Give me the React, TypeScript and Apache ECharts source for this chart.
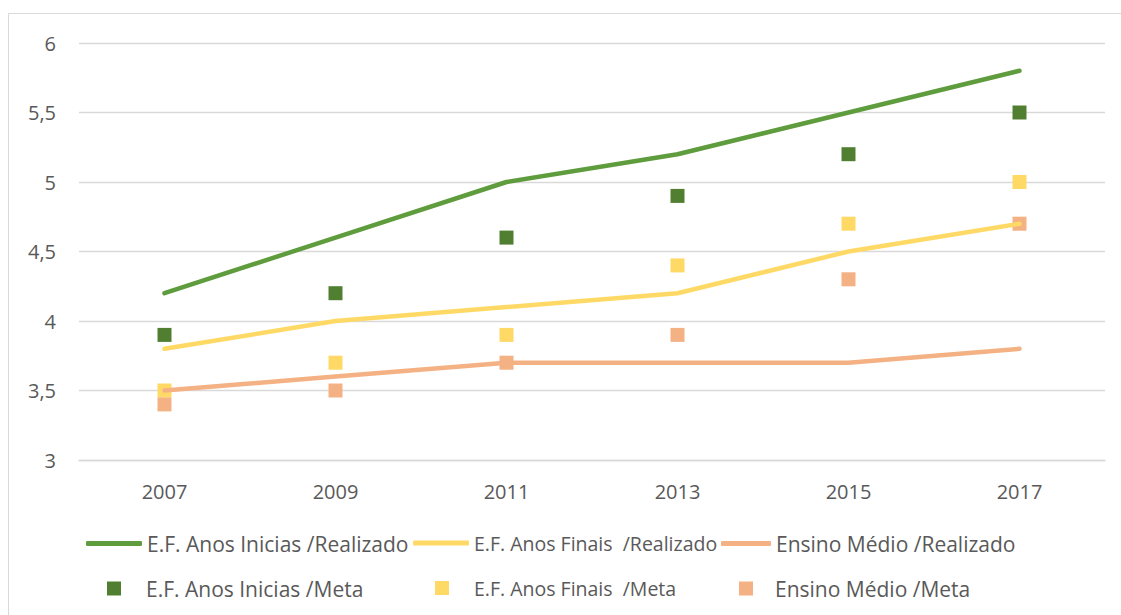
import React, { useEffect, useRef } from "react";
import * as echarts from "echarts";

const years = ["2007", "2009", "2011", "2013", "2015", "2017"];
const iniciaisRealizado = [4.2, 4.6, 5.0, 5.2, 5.5, 5.8];
const finaisRealizado = [3.8, 4.0, 4.1, 4.2, 4.5, 4.7];
const medioRealizado = [3.5, 3.6, 3.7, 3.7, 3.7, 3.8];
const iniciaisMeta = [3.9, 4.2, 4.6, 4.9, 5.2, 5.5];
const finaisMeta = [3.5, 3.7, 3.9, 4.4, 4.7, 5.0];
const medioMeta = [3.4, 3.5, 3.7, 3.9, 4.3, 4.7];

const names = [
  "E.F. Anos Inicias /Realizado",
  "E.F. Anos Finais  /Realizado",
  "Ensino Médio /Realizado",
  "E.F. Anos Inicias /Meta",
  "E.F. Anos Finais  /Meta",
  "Ensino Médio /Meta",
];

const FONT = "'Open Sans', sans-serif";
const TXT = "#595959";

export default function App() {
  const ref = useRef<HTMLDivElement>(null);
  useEffect(() => {
    if (!ref.current) return;
    const chart = echarts.init(ref.current, undefined, { renderer: "svg" });
    const green = "#5f9c3d";
    const greenM = "#507f31";
    const yellow = "#ffd966";
    const orange = "#f4b183";
    const lineLegend = (name: string, left: number, w: number, fs: number) => ({
      data: [name],
      left,
      top: 533,
      padding: 0,
      icon: "roundRect",
      itemWidth: w,
      itemHeight: 5,
      selectedMode: false,
      textStyle: { fontFamily: FONT, fontSize: fs, color: TXT },
    });
    const metaLegend = (name: string, left: number, pad: number, fs: number) => ({
      data: [name],
      left,
      top: 578,
      padding: 0,
      icon: "rect",
      itemWidth: 14,
      itemHeight: 14,
      selectedMode: false,
      textStyle: { fontFamily: FONT, fontSize: fs, color: TXT, padding: [0, 0, 0, pad] },
    });
    const lineSeries = (name: string, data: number[], color: string) => ({
      name,
      type: "line",
      data,
      color,
      symbol: "none",
      lineStyle: { width: 4.5, color, cap: "round", join: "round" },
    });
    const metaSeries = (name: string, data: number[], color: string) => ({
      name,
      type: "scatter",
      data,
      color,
      symbol: "rect",
      symbolSize: 14,
      itemStyle: { color, opacity: 1 },
    });
    chart.setOption({
      animation: false,
      backgroundColor: "#ffffff",
      textStyle: { fontFamily: FONT },
      graphic: [
        {
          type: "rect",
          shape: { x: 8.5, y: 13.5, width: 1300, height: 800 },
          style: { fill: "none", stroke: "#d9d9d9", lineWidth: 1 },
          silent: true,
        },
      ],
      grid: { left: 79, right: 16, top: 43, bottom: 155 },
      legend: [
        lineLegend(names[0], 86, 56, 21),
        lineLegend(names[1], 413, 56, 19.5),
        lineLegend(names[2], 721, 50, 21),
        metaLegend(names[3], 107, 20, 21),
        metaLegend(names[4], 435, 20, 19.5),
        metaLegend(names[5], 739, 17, 21),
      ],
      xAxis: {
        type: "category",
        data: years,
        boundaryGap: true,
        axisLine: { show: true, lineStyle: { color: "#d9d9d9", width: 1.3 } },
        axisTick: { show: false },
        axisLabel: { fontFamily: FONT, fontSize: 20, color: TXT, margin: 21 },
      },
      yAxis: {
        type: "value",
        min: 3,
        max: 6,
        interval: 0.5,
        axisLine: { show: false },
        axisTick: { show: false },
        splitLine: { lineStyle: { color: "#d9d9d9", width: 1.3 } },
        axisLabel: {
          fontFamily: FONT,
          fontSize: 20,
          color: TXT,
          margin: 23,
          formatter: (v: number) => String(v).replace(".", ","),
        },
      },
      series: [
        lineSeries(names[0], iniciaisRealizado, green),
        lineSeries(names[1], finaisRealizado, yellow),
        lineSeries(names[2], medioRealizado, orange),
        metaSeries(names[3], iniciaisMeta, greenM),
        metaSeries(names[4], finaisMeta, yellow),
        metaSeries(names[5], medioMeta, orange),
      ],
    });
    return () => chart.dispose();
  }, []);
  return (
    <div
      ref={ref}
      style={{ position: "fixed", left: 0, top: 0, width: 1121, height: 615 }}
    />
  );
}
